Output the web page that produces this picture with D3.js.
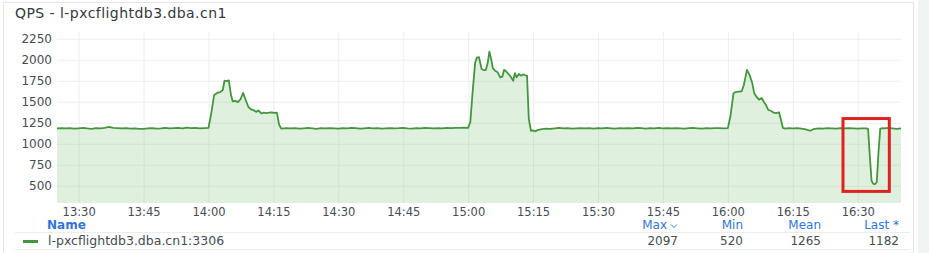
<!DOCTYPE html>
<html>
<head>
<meta charset="utf-8">
<script src="https://cdn.jsdelivr.net/npm/d3@7"></script>
<style>
  body { margin: 0; background: #fff; }
  text { font-family: "DejaVu Sans", sans-serif; }
</style>
</head>
<body>
<div id="chart"></div>
<script>
// minutes after 13:25 and the QPS read at that moment
var minutes = [
  0, 1, 2, 3, 4, 5, 6, 7, 8, 9, 10, 11, 12, 13, 14, 15, 16, 17, 18, 19, 20,
  21, 22, 23, 24, 25, 26, 27, 28, 29, 30, 31, 32, 33, 34, 35,
  35.6, 36.3, 37, 37.7, 38.3, 38.7, 39.2, 39.7, 40.2, 40.6, 41.2, 41.8, 42.4, 43, 43.6,
  44.2, 44.8, 45.4, 46, 46.6, 47.2, 47.8, 48.4, 49, 49.6, 50.2, 50.8, 51.3, 51.8,
  53, 54, 55, 56, 57, 58, 59, 60, 61, 62, 63, 64, 65, 66, 67, 68, 69, 70, 71, 72,
  73, 74, 75, 76, 77, 78, 79, 80, 81, 82, 83, 84, 85, 86, 87, 88, 89, 90, 91, 92, 93, 94, 95,
  95.5, 96, 96.6, 97, 97.5, 98.1, 98.7, 99.1, 99.5, 99.9, 100.3, 100.7, 101.2, 101.8, 102.4,
  102.9, 103.3, 103.8, 104.3, 104.8, 105.4, 105.8, 106.2, 106.7, 107.2, 107.7, 108.2, 108.6,
  109, 109.5, 110, 110.5, 111, 112, 113, 114, 115, 116, 117, 118, 119, 120, 121, 122, 123,
  124, 125, 126, 127, 128, 129, 130, 131, 132, 133, 134, 135, 136, 137, 138, 139, 140, 141,
  142, 143, 144, 145, 146, 147, 148, 149, 150, 151, 152, 153, 154, 155,
  155.6, 156.3, 156.8, 157.5, 158.2, 158.7, 159.4, 160, 160.6, 161.1, 161.6, 162.2, 162.8,
  163.3, 163.8, 164.3, 165, 165.6, 166.2, 166.8, 167.2, 167.7, 168.3,
  169, 170, 171, 172, 173, 174, 175, 176, 177, 178, 179, 180, 181, 182, 183, 184, 185, 186, 187,
  187.4, 187.8, 188.2, 188.6, 189, 189.4, 189.8, 190.2,
  190.7, 191.2, 192, 193, 194, 195
];
var qps = [
  1183, 1186, 1182, 1185, 1180, 1184, 1188, 1182, 1178, 1185, 1183, 1190, 1200, 1188, 1185, 1182, 1187, 1180, 1184, 1178, 1176,
  1182, 1186, 1180, 1184, 1190, 1182, 1185, 1188, 1183, 1192, 1186, 1189, 1184, 1187, 1190,
  1350, 1580, 1605, 1615, 1640, 1750, 1745, 1755, 1580, 1505, 1510, 1495, 1530, 1605, 1520,
  1440, 1410, 1400, 1380, 1395, 1360, 1370, 1365, 1370, 1372, 1368, 1370, 1230, 1180,
  1185, 1182, 1186, 1180, 1184, 1188, 1183, 1178, 1185, 1182, 1187, 1184, 1180, 1186, 1183, 1189, 1185, 1181, 1184, 1188,
  1183, 1186, 1180, 1184, 1187, 1182, 1185, 1190, 1184, 1181, 1186, 1183, 1188, 1185, 1182, 1187, 1184, 1189, 1186, 1190, 1188, 1192, 1190,
  1260, 1600, 1960, 2025, 2030, 1890, 1875, 1880, 1960, 2097, 2010, 1900, 1870, 1850, 1790,
  1800, 1880, 1860, 1830, 1800, 1750, 1840, 1790, 1830, 1810, 1825, 1815, 1810,
  1300, 1155, 1158, 1148, 1162, 1175, 1180, 1178, 1184, 1190, 1182, 1186, 1180, 1184, 1187, 1182, 1185,
  1181, 1186, 1183, 1188, 1184, 1180, 1185, 1182, 1187, 1184, 1189, 1185, 1181, 1186, 1183, 1188, 1184, 1187,
  1182, 1186, 1183, 1180, 1185, 1188, 1184, 1181, 1186, 1183, 1187, 1185, 1182, 1186,
  1330, 1600, 1615, 1620, 1625, 1700, 1880, 1820, 1730, 1600, 1560, 1525, 1545,
  1500, 1460, 1405, 1390, 1370, 1365, 1375, 1300, 1190, 1180,
  1185, 1182, 1186, 1180, 1172, 1155, 1178, 1184, 1180, 1186, 1183, 1181, 1185, 1182, 1186, 1183, 1180, 1184, 1182,
  1175, 850, 560, 522, 520, 545, 900, 1178,
  1186, 1183, 1188, 1184, 1178, 1182
];

// y axis tick values
var yTicks = [500, 750, 1000, 1250, 1500, 1750, 2000, 2250];

// legend columns and the stats for the one series
var seriesName = "l-pxcflightdb3.dba.cn1:3306";
var statNames = ["Max", "Min", "Mean", "Last *"];
var statValues = [2097, 520, 1265, 1182];

// highlighted window (minutes after 13:25, QPS)
var boxMinutes = [181.6, 192.3];
var boxQps = [433, 1300];

var svgWidth = 929;
var svgHeight = 253;

var plot = { left: 57, right: 901, top: 32, bottom: 203 };

var svg = d3.select("#chart").append("svg")
    .attr("width", svgWidth)
    .attr("height", svgHeight);

// panel frame and the grey strip on the right
svg.append("rect")
    .attr("x", 3.5).attr("y", 2.5)
    .attr("width", 910).attr("height", 260)
    .attr("fill", "#fff")
    .attr("stroke", "#e4e4e4");
svg.append("rect")
    .attr("x", 918).attr("y", 0)
    .attr("width", 11).attr("height", svgHeight)
    .attr("fill", "#f2f3f3");

svg.append("text")
    .attr("x", 15).attr("y", 18)
    .attr("font-size", 14)
    .attr("letter-spacing", 0.45)
    .attr("fill", "#34383e")
    .text("QPS - l-pxcflightdb3.dba.cn1");

var t0 = new Date(2020, 0, 1, 13, 25);
var toTime = m => new Date(t0.getTime() + m * 60000);

var data = minutes.map((m, i) => ({ t: toTime(m), v: qps[i] }));

var xScale = d3.scaleTime()
    .domain([toTime(0), toTime(195)])
    .range([plot.left, plot.right]);

var yScale = d3.scaleLinear()
    .domain([295, 2330])
    .range([plot.bottom, plot.top]);

// grid
var xGrid = svg.append("g")
    .attr("transform", `translate(0, ${plot.bottom})`)
    .call(d3.axisBottom(xScale)
        .ticks(d3.timeMinute.every(15))
        .tickSize(-(plot.bottom - plot.top))
        .tickFormat(""));
var yGrid = svg.append("g")
    .attr("transform", `translate(${plot.left}, 0)`)
    .call(d3.axisLeft(yScale)
        .tickValues(yTicks)
        .tickSize(-(plot.right - plot.left))
        .tickFormat(""));
[xGrid, yGrid].forEach(g => {
    g.select(".domain").remove();
    g.selectAll("line").attr("stroke", "#eeeeee");
});

// area + line
var area = d3.area()
    .x(d => xScale(d.t))
    .y0(plot.bottom)
    .y1(d => yScale(d.v));
var line = d3.line()
    .x(d => xScale(d.t))
    .y(d => yScale(d.v));

svg.append("path")
    .datum(data)
    .attr("d", area)
    .attr("fill", "#73b96a")
    .attr("fill-opacity", 0.22);
svg.append("path")
    .datum(data)
    .attr("d", line)
    .attr("fill", "none")
    .attr("stroke", "#43963e")
    .attr("stroke-width", 1.8)
    .attr("stroke-linejoin", "round");

// axes
var xAxis = svg.append("g")
    .attr("transform", `translate(0, ${plot.bottom})`)
    .call(d3.axisBottom(xScale)
        .ticks(d3.timeMinute.every(15))
        .tickFormat(d3.timeFormat("%H:%M"))
        .tickSize(0));
xAxis.selectAll("text").attr("y", 13).attr("dy", 0).attr("font-size", 11.5);

var yAxis = svg.append("g")
    .attr("transform", `translate(52, 0)`)
    .call(d3.axisLeft(yScale)
        .tickValues(yTicks)
        .tickFormat(d3.format("d"))
        .tickSize(0)
        .tickPadding(0));
yAxis.selectAll("text").attr("font-size", 12);

[xAxis, yAxis].forEach(g => {
    g.select(".domain").remove();
    g.selectAll("text")
        .attr("fill", "#464c54")
        .style("font-family", "DejaVu Sans, sans-serif");
});

// red highlight box
svg.append("rect")
    .attr("x", xScale(toTime(boxMinutes[0])))
    .attr("y", yScale(boxQps[1]))
    .attr("width", xScale(toTime(boxMinutes[1])) - xScale(toTime(boxMinutes[0])))
    .attr("height", yScale(boxQps[0]) - yScale(boxQps[1]))
    .attr("fill", "none")
    .attr("stroke", "#e0221e")
    .attr("stroke-width", 3);

// legend table
var statRight = [678, 743, 821, 899];
var legend = svg.append("g").attr("font-size", 12);

legend.append("text")
    .attr("x", 47).attr("y", 229)
    .attr("fill", "#3274d9")
    .attr("font-weight", "bold")
    .text("Name");

legend.selectAll(".head")
    .data(statNames)
    .enter()
    .append("text")
    .attr("class", "head")
    .attr("x", (d, i) => statRight[i] - (i === 0 ? 11 : 0))
    .attr("y", 229)
    .attr("text-anchor", "end")
    .attr("fill", "#3274d9")
    .text(d => d);

// little sort chevron after "Max"
legend.append("path")
    .attr("d", `M${statRight[0] - 7},224.5 l3,3 l3,-3`)
    .attr("fill", "none")
    .attr("stroke", "#3274d9")
    .attr("stroke-width", 1);

legend.append("line")
    .attr("x1", 15).attr("x2", 910)
    .attr("y1", 232.5).attr("y2", 232.5)
    .attr("stroke", "#ececec");
legend.append("line")
    .attr("x1", 15).attr("x2", 910)
    .attr("y1", 249.5).attr("y2", 249.5)
    .attr("stroke", "#ececec");

legend.append("line")
    .attr("x1", 23).attr("x2", 38)
    .attr("y1", 241.5).attr("y2", 241.5)
    .attr("stroke", "#43963e")
    .attr("stroke-width", 3);

legend.append("text")
    .attr("x", 48).attr("y", 245)
    .attr("fill", "#464c54")
    .attr("font-size", 12.5)
    .text(seriesName);

legend.selectAll(".val")
    .data(statValues)
    .enter()
    .append("text")
    .attr("class", "val")
    .attr("x", (d, i) => statRight[i])
    .attr("y", 245)
    .attr("text-anchor", "end")
    .attr("fill", "#464c54")
    .text(d => d);
</script>
</body>
</html>
